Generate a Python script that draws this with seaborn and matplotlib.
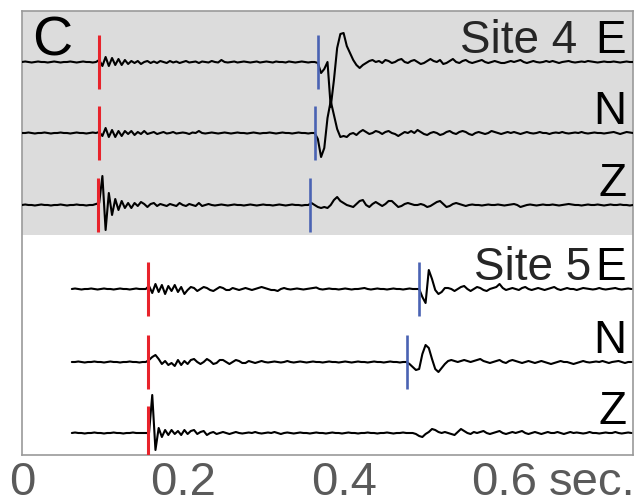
import numpy as np
import pandas as pd
import matplotlib
matplotlib.use("Agg")
import matplotlib.pyplot as plt
import seaborn as sns

# ---------------- data ----------------
SAMPLE_DT = 0.004            # s between samples
SITE4_START = 0.0            # s
SITE5_START = 0.062          # s

# amplitudes (px-like units, upward positive)
site4_E = ([0, 0.5, 0, -0.5, 0, 0.5, 0, 0, -0.5, 0, 0.5, 0, -0.5, 0, 0, 0.5, 0, -0.5, 0, 0.5, 0, 0, -0.5, 0]
           + [2, -4, 5, -4, 4, -3, 3, -3, 2, -2, 1, -1]
           + [1, -2, 0, 1, -1, 0.5, -1, 1, 0, -1, 1, -0.5]
           + [0.5, -1, 0, 1, -0.5, 0, 0.5, -1, 0.5, 0, -0.5, 1]
           + [0, -0.5, 2, 0, -0.5, 0, 0.5, -0.5, 0, 0.5, 0, -0.5]
           + [0, 0.5, -0.5, 0, 0.5, 0, -0.5, 0.5, 0, 0, -0.5, 0.5]
           + [0, -0.5, 0, 0.5, 0, -0.5, 0, 0]
           + [-1, -11, -7, 0, -45, -18, 14, 28, 29, 16, 9, 2, -3, -6, -3, -1]
           + [1, 2, 0, 1, -1, 2, 1, -1, 0, 2, 3, 0]
           + [-1, 1, 2, 0, -2, -1, 1, 3, 1, 0, 2, -2]
           + [-1, 1, 3, 0, -1, 1, 2, 0, -1, 0, 1, 2]
           + [0, -1, 0, 1, 0, -1, -1, 0, 1, 0, 1, 2]
           + [0, -1, 0, 1, 0, -0.5, 0, 1, 0, 1, 0, -1]
           + [0, 0.5, 1, 0, -0.5, 0, 0.5, 0, 1, 0.5, 0, -0.5]
           + [0, 0.5, 0, 0, 0.5, 0, -0.5, 0, 0.5, 0, 0])

site4_N = ([0, 0, 0.5, 0, -0.5, 0, 0, 0.5, 0, -0.5, 0, 0, 0.5, 0, 0, -0.5, 0, 0.5, 0, 0, -0.5, 0, 0.5, 0]
           + [1, -3, 5, -4, 3, -4, 2, -3, 2, -1, 2, -2]
           + [1, -1, 2, -1, 0, 1, -1, 0, 1, -0.5, 0, 1]
           + [-0.5, 0, 0.5, 0, -1, 0.5, 0, 2, 0, -0.5, 0, 0.5]
           + [0, -0.5, 0, 0.5, 0, -0.5, 0, 0.5, 0, 0, -0.5, 0]
           + [0.5, 0, -0.5, 0, 0, 0.5, 0, -0.5, 0, 0.5, 0, 0]
           + [-0.5, 0, 0.5, 0, 0, -0.5, 0, 0]
           + [-6, -24, -15, 15, 32, 18, 4, -4, -3, -4, -1, 0]
           + [-2, 1, 3, 1, -1, 0, 2, 1, -1, 1, 2, 0]
           + [-1, -3, -1, 1, 0, 2, 0, 3, 1, -1, -2, 0]
           + [1, 0, -2, -1, 1, 2, 0, -1, 1, 2, 1, -1]
           + [-2, 0, 1, 0, -1, 0, 2, 1, 0, -1, 0, 1]
           + [0, 1, 0, -1, 0, 1, 0, -0.5, 0, 1, 0, 0]
           + [-1, 0, 0.5, 0, 1, 0, -0.5, 0, 0.5, 0, 1, 0]
           + [-0.5, 0, 0.5, 0, 0, -0.5, 0, 0.5, 1, 0, -1, 0, 1, 0.5, 0])

site4_Z = ([0, 0.5, 0, 0, -0.5, 0, 0.5, 0, 0, -0.5, 0, 0, 0.5, 0, -0.5, 0, 0, 0.5, 0, 0, -0.5, 0, 0, 1]
           + [2, 29, -25, 12, -10, 6, -5, 4, -3, 2, -3, 2]
           + [-1, 3, 1, -2, 1, 2, -1, 1, 0, -1, 1, 0]
           + [-1, 2, 0, -1, 1, 0, -1, 2, -1, 0, 1, 0]
           + [-0.5, 0, 0.5, 0, -0.5, 0, 0.5, 0, 0, -0.5, 0, 0.5]
           + [0, -0.5, 0, 0.5, 0, 0, -0.5, 0, 0.5, 0, -0.5, 0]
           + [0.5, 0, 0, -0.5, 0, 0]
           + [2, 0, -2, -3, -2, -3, 0, 5, 8, 4]
           + [2, 0, -1, -2, 1, 4, 5, 0, -2, 1]
           + [3, 1, -1, 1, 4, 4, 1, -2, -1, 1]
           + [2, 1, 0, 0, 1, 0, -2, -1, 1, 3]
           + [4, 1, -2, -1, 1, 2, 1, 0, -1, 0]
           + [0.5, 0, 0, -0.5, 0, 0.5, 0, 0, 0.5, 0, -0.5, 0]
           + [0.5, 1, 0, -2, -1, 0, 0.5, 0, -0.5, 0, 0.5, 0]
           + [0, 0.5, 0, -0.5, 0, 0.5, 1, 0.5, 0, 0, -0.5, 0]
           + [0.5, 0, 0, 0.5, 0, -0.5, 0, 0.5, 0, 0, 0.5, 0, 0, -0.5, 0])

site5_E = ([0, 0.5, 0, -0.5, 0, 0, 0.5, 0, -0.5, 0, 0.5, 0, 0, -0.5, 0, 0.5, 0, 0, -0.5, 0, 0.5, 0, 0, 0]
           + [3, -4, 5, -3, 4, -5, 3, -2, 4, -3, 2, -5]
           + [-1, 2, 1, -2, 0, 2, 1, -1, -2, 0, 2, 1]
           + [-1, -1, 1, 0, -1, 0, 1, 0, -1, 0, 1, 2]
           + [1, 0, -1, -1, -2, 0, 1, 0, -0.5, 0, 0.5, 0]
           + [-0.5, 0, 0.5, 1, 1.5, 0, -0.5, 0, 0.5, 0, 0, -0.5]
           + [0, 0.5, 0, -0.5, 0, 0, 0.5, 1, 0, -0.5, 0, 0.5]
           + [0, 0, -0.5, 0, 0.5, 0, 0, -0.5, 0, 0.5, 0, 0]
           + [0, -8, -14, 19, 10, -1, -5, -3, 1]
           + [1, 0, -2, 0, 2, 3, 0, -2, 0, 2, 1, -1]
           + [-2, 0, 1, 2, 5, 1, -1, 0, 1, 0, -1, 1]
           + [2, 0, -1, 0, 1, 0, -1, 0, 1, 2, 0, -1]
           + [0, 1, 0, 0, -1, 0, 1, 0.5, 0, -0.5, 0, 1]
           + [0, -0.5, 0, 0.5, 1, 0, -0.5, 0, 0.5, 0])

site5_N = ([0, 0, 0.5, 0, -0.5, 0, 0, 0.5, 0, 0, -0.5, 0, 0.5, 0, 0, -0.5, 0, 0, 0.5, 0, 0, -0.5, 0, 0]
           + [2, 5, 7, 3, -2, 1, -3, -1, -4, 2, -3, 1]
           + [-2, 2, 3, 0, -2, 0, 3, 1, -2, -1, 2, 2]
           + [0, -2, 0, 2, 1, -1, -1, 1, 0, -1, 0, 1]
           + [0, -0.5, 0, 0.5, 0, -0.5, 0, 1, 0, -0.5, 0, 0.5]
           + [0, -0.5, 0, 0.5, 0, 0, -0.5, 0, 0.5, 0, 0, -0.5]
           + [0, 0.5, 0, -0.5, 0, 0.5, 0, 0, -0.5, 0, 0.5, 0]
           + [0, -0.5, 0, 0.5, 0, 0, -0.5, 0]
           + [0, -2, -5, -8, -7, 8, 17, 14, 3, -7, -10, -6, -2, 1, 2]
           + [1, 0, 1, 2, 1, 0, 1, 2, 3, 1, 0, -1]
           + [0, 1, 2, 0, -1, 1, 2, 1, 0, -1, 0, 1]
           + [0, -1, 0, 1, 0, -1, -2, -1, 0, 1, 0, 0]
           + [-1, -2, -1, 0, 1, 0, -0.5, 0, 0.5, 0, 1, 0]
           + [-1, 0, 0.5, 1, 0, -1, 0, 0])

site5_Z = ([0, 0.5, 0, 0, -0.5, 0, 0, 0.5, 0, 0, -0.5, 0, 0, 0.5, 0, 0, -0.5, 0, 0, 0.5, 0, 0, 0, 0]
           + [0, 38, -17, 5, -4, 3, -2, 3, -1, 2, -2, 3]
           + [-1, 2, 3, -1, 1, 2, -2, 0, 1, -1, 0, 1]
           + [0, -1, 0, 1, 0, -0.5, 0, 0.5, 0, 1, 0, -0.5]
           + [0, 0.5, 0, 1, 0, -1, 0, 0.5, 0, -0.5, 0, 0.5]
           + [0, 0, -0.5, 0, 0.5, 0, 0, -0.5, 0, 0.5, 0, 0]
           + [-0.5, 0, 0.5, 0, 0, -0.5, 0, 0, 0.5, 0, 0, -0.5]
           + [0, 0, 0.5, 0, -0.5, 0, 0, 0.5, 0, 0, 0, -1]
           + [-3, -4, -1, 1, 4, 3, 1, 0, 1, 0, -1, -2]
           + [1, 4, 2, 0, -1, 1, 0, 1, 2, 0, -1, 0]
           + [1, 2, 0, -1, 0, 1, 0, 1, 2, 0, -1, 0]
           + [1, 0, -1, 0, 1, 0, 0, 1, 0, -1, 0, 1]
           + [0, 0.5, 0, -0.5, 0, 1, 0, 0, -0.5, 0, 0.5, 0]
           + [0, 1, 0, -0.5, 0, 0.5, 0])

trace_names = ["Site 4 E", "Site 4 N", "Site 4 Z", "Site 5 E", "Site 5 N", "Site 5 Z"]
trace_amps = [site4_E, site4_N, site4_Z, site5_E, site5_N, site5_Z]
trace_starts = [SITE4_START] * 3 + [SITE5_START] * 3

# P (red) and S (blue) picks, seconds
p_picks = [0.0957, 0.0957, 0.0944, 0.1565, 0.1565, 0.1565]
s_picks = [0.3677, 0.3640, 0.3578, 0.4944, 0.4795, None]

component_labels = ["E", "N", "Z", "E", "N", "Z"]
site_labels = ["Site 4", "Site 5"]
xtick_values = [0, 0.2, 0.4, 0.6]
xtick_labels = ["0", "0.2", "0.4", "0.6"]
unit_label = "sec."
panel_label = "C"

# ---------------- layout ----------------
W, H = 644, 504
baselines = [393, 322, 250, 166, 93, 22]   # vertical offsets (axis units)
Y_MAX = 444
GRAY_FROM = 220
PICK_HALF = 27

rows = []
for name, amps, t0, base in zip(trace_names, trace_amps, trace_starts, baselines):
    for i, a in enumerate(amps):
        rows.append({"trace": name, "t": t0 + i * SAMPLE_DT, "y": base + a})
df = pd.DataFrame(rows)

sns.set_style("white")
plt.rcParams["font.family"] = ["Liberation Sans", "DejaVu Sans"]

fig = plt.figure(figsize=(W / 100, H / 100), dpi=100)
ax = fig.add_axes([22 / W, 49 / H, 611 / W, Y_MAX / H])

ax.axhspan(GRAY_FROM, Y_MAX, color="#dcdcdc", zorder=0, lw=0)

sns.lineplot(data=df, x="t", y="y", units="trace", estimator=None, sort=False,
             color="black", lw=1.5, ax=ax, legend=False, zorder=3)

for base, tp, ts in zip(baselines, p_picks, s_picks):
    ax.vlines(tp, base - PICK_HALF, base + PICK_HALF, color="#e8232b", lw=2.2, zorder=4)
    if ts is not None:
        ax.vlines(ts, base - PICK_HALF, base + PICK_HALF, color="#4a63b3", lw=1.9, zorder=4)

ax.set_xlim(0, 0.76)
ax.set_ylim(0, Y_MAX)
ax.set_yticks([])
ax.set_xticks(xtick_values)
ax.set_xticklabels(xtick_labels)
ax.tick_params(axis="x", length=0, pad=4.5, labelsize=34, labelcolor="#5a5a5a")
ax.set_xlabel("")
ax.set_ylabel("")
for s in ax.spines.values():
    s.set_visible(True)
    s.set_color("#9a9a9a")
    s.set_linewidth(1.2)

# unit after the last tick label
ax.annotate(unit_label, xy=(xtick_values[-1], 0), xycoords=("data", "axes fraction"),
            xytext=(32, -4.5), textcoords="offset points", ha="left", va="top",
            fontsize=34, color="#5a5a5a", annotation_clip=False)

# component labels
LAB = 33
for base, comp in zip(baselines, component_labels):
    ax.text(0.7516, base + 9, comp, ha="right", va="baseline", fontsize=LAB, color="black", zorder=5)
ax.text(0.691, baselines[0] + 9, site_labels[0], ha="right", va="baseline", fontsize=LAB, zorder=5)
ax.text(0.708, baselines[3] + 9, site_labels[1], ha="right", va="baseline", fontsize=LAB, zorder=5)

ax.text(0.013, 399, panel_label, ha="left", va="baseline", fontsize=40, color="black", zorder=5)

fig.savefig("out.png", dpi=100)
